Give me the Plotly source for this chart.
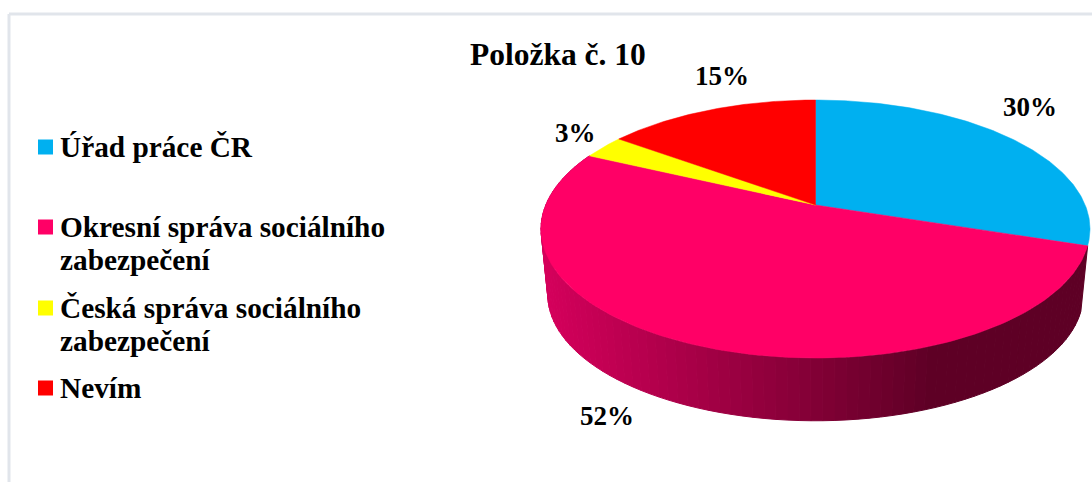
import numpy as np
import plotly.graph_objects as go

# ---- data ----
CATEGORIES = ["Úřad práce ČR", "Okresní správa sociálního zabezpečení",
              "Česká správa sociálního zabezpečení", "Nevím"]
VALUES = [30, 52, 3, 15]
LEGEND_LINES = [["Úřad práce ČR"], ["Okresní správa sociálního", "zabezpečení"],
                ["Česká správa sociálního", "zabezpečení"], ["Nevím"]]
TITLE = "Položka č. 10"

# ---- style ----
COLORS = ["#00B0F0", "#FF0066", "#FFFF00", "#FF0000"]
FONT = "Liberation Serif"
LABEL_POS = [(1030, 107), (607, 416), (575, 133), (722, 76)]
LEGEND_Y = [147, 227, 308, 388]
LINE_GAP = 33
CX, CY, RX, RY, APEX_UP, DEPTH, BOTTOM_SCALE = 815.5, 229, 274.5, 129, 24, 66, 0.975
SIDE_LEFT, SIDE_RIGHT = np.array([214, 0, 92]), np.array([94, 0, 37])
SIDE_BANDS = 90

c = APEX_UP / RY  # tilt of the perspective
r0 = RX * np.sqrt(1 - c * c)


def rim(t, bottom=False):
    """Map an angle (clockwise from 12 o'clock) to the tilted pie's rim."""
    u, v = np.sin(t), np.cos(t)
    d = c * v + 1
    X = r0 * u / d
    Y = (RY * v + APEX_UP) / d
    if bottom:
        return CX + BOTTOM_SCALE * X, CY + DEPTH - BOTTOM_SCALE * Y
    return CX + X, CY - Y


fractions = np.array(VALUES, dtype=float) / sum(VALUES)
edges = np.concatenate([[0], np.cumsum(fractions)]) * 2 * np.pi

fig = go.Figure()

# side wall of the largest slice
t0, t1 = edges[1], edges[2]
bands = np.linspace(t0, t1, SIDE_BANDS + 1)
for a, b in zip(bands[:-1], bands[1:]):
    ts = np.linspace(a, b, 6)
    xt, yt = rim(ts)
    xb, yb = rim(ts, bottom=True)
    xs = np.concatenate([xt, xb[::-1], xt[:1]])
    ys = np.concatenate([yt, yb[::-1], yt[:1]])
    f = np.clip((xb.mean() - 545) / (930 - 545), 0, 1)
    rgb = (SIDE_LEFT + (SIDE_RIGHT - SIDE_LEFT) * f).round().astype(int)
    col = f"rgb({rgb[0]},{rgb[1]},{rgb[2]})"
    fig.add_trace(go.Scatter(x=xs, y=ys, mode="lines", fill="toself", fillcolor=col,
                             line=dict(color=col, width=1), hoverinfo="skip"))

# top face
ax, ay = CX, CY - APEX_UP
for i, col in enumerate(COLORS):
    ts = np.linspace(edges[i], edges[i + 1], 160)
    xt, yt = rim(ts)
    fig.add_trace(go.Scatter(x=np.concatenate([[ax], xt, [ax]]),
                             y=np.concatenate([[ay], yt, [ay]]),
                             mode="lines", fill="toself", fillcolor=col,
                             line=dict(color=col, width=0.5),
                             name=CATEGORIES[i], hoverinfo="name"))

# legend swatches
fig.add_trace(go.Scatter(x=[45.5] * len(CATEGORIES), y=LEGEND_Y, mode="markers",
                         marker=dict(symbol="square", size=15, color=COLORS),
                         hoverinfo="skip"))

anns = [dict(x=558, y=54, text=f"<b>{TITLE}</b>", font_size=31.5)]
for v, (x, y) in zip(VALUES, LABEL_POS):
    anns.append(dict(x=x, y=y, text=f"<b>{v}%</b>", font_size=27))
for lines, y in zip(LEGEND_LINES, LEGEND_Y):
    for j, ln in enumerate(lines):
        anns.append(dict(x=57.5, y=y + j * LINE_GAP, text=f"<b>{ln}</b>", font_size=29.3,
                         xanchor="left"))
annotations = []
for a in anns:
    size = a.pop("font_size")
    annotations.append(dict(xref="x", yref="y", showarrow=False, yanchor="middle",
                            font=dict(family=FONT, size=size, color="#000000"), **a))

frame = dict(color="#E1E5EB", width=3)
fig.update_layout(
    width=1092, height=482, margin=dict(l=0, r=0, t=0, b=0),
    paper_bgcolor="white", plot_bgcolor="white", showlegend=False,
    xaxis=dict(range=[0, 1092], visible=False, fixedrange=True),
    yaxis=dict(range=[482, 0], visible=False, fixedrange=True),
    annotations=annotations,
    shapes=[dict(type="line", x0=9, x1=9, y0=14, y1=482, line=frame),
            dict(type="line", x0=9, x1=1092, y0=14, y1=14, line=frame)],
)
fig.write_html("out.html", config=dict(displayModeBar=False),
               post_script="document.body.style.margin='0';document.body.style.overflow='hidden';")
